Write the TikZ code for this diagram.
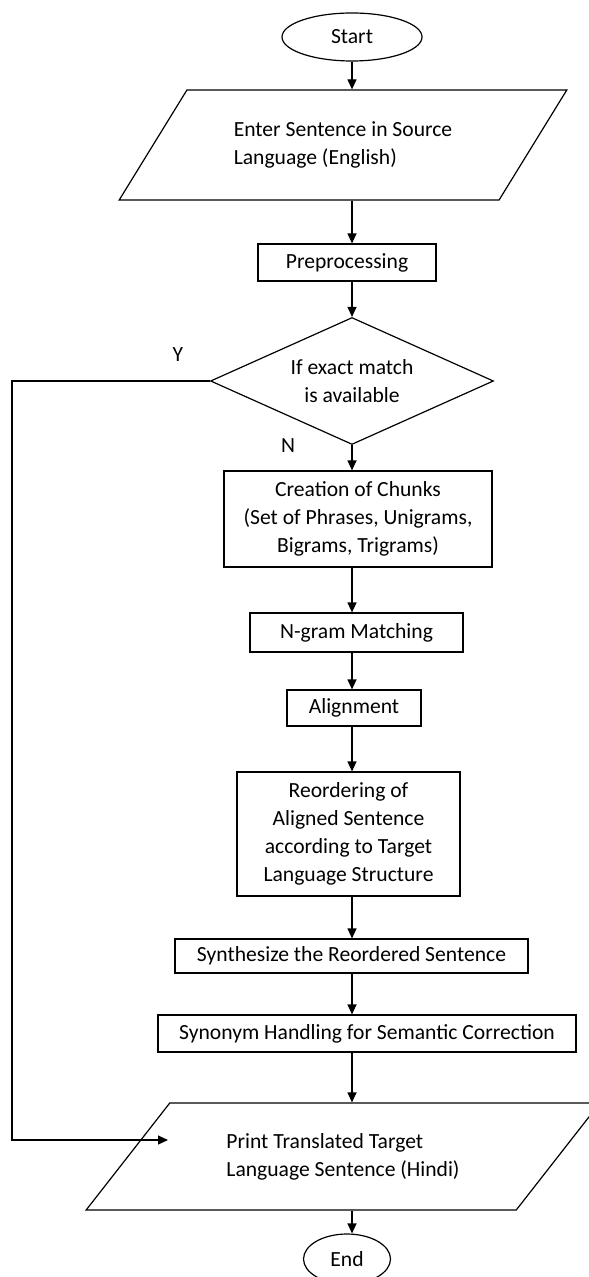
\documentclass[tikz,border=0pt]{standalone}
\usepackage{fontspec}
\setmainfont{Carlito}
\usetikzlibrary{shapes.geometric,arrows.meta}
\tikzstyle{term} = [ellipse, draw, inner sep=0pt]
\tikzstyle{io} = [trapezium, draw, trapezium stretches=true, align=left, inner sep=0pt]
\tikzstyle{proc} = [rectangle, draw, align=center, inner sep=0pt]
\tikzstyle{test} = [diamond, draw, align=center, inner sep=0pt, aspect=2.23]

\begin{document}
\begin{tikzpicture}[x=0.5pt, y=-0.5pt, line width=0.6pt,
  >={Triangle[length=5pt,width=4.5pt]}, font=\fontsize{10.8}{14}\selectfont]
  \useasboundingbox (0,0) rectangle (588,1277);
  \node (a) at (352,37) [term, minimum width=70pt, minimum height=24pt] {Start};
  \node (b) at (343,145) [io, trapezium left angle=44.5, trapezium right angle=135.5,
    minimum width=224pt, minimum height=55pt] {Enter Sentence in Source\\Language (English)};
  \node (c) at (347,262.5) [proc, minimum width=89pt, minimum height=18.5pt] {Preprocessing};
  \node (d) at (352,381) [test, minimum width=141.5pt, minimum height=63.5pt] {If exact match\\is available};
  \node (e) at (358,519) [proc, minimum width=134pt, minimum height=48pt] {Creation of Chunks\\(Set of Phrases, Unigrams,\\Bigrams, Trigrams)};
  \node (f) at (356.5,632.5) [proc, minimum width=106.5pt, minimum height=19.5pt] {N-gram Matching};
  \node (g) at (354,708) [proc, minimum width=67pt, minimum height=18pt] {Alignment};
  \node (h) at (348.5,834) [proc, minimum width=111.5pt, minimum height=62pt] {Reordering of\\Aligned Sentence\\according to Target\\Language Structure};
  \node (i) at (351.5,956) [proc, minimum width=176.5pt, minimum height=17pt] {Synthesize the Reordered Sentence};
  \node (j) at (367,1033.5) [proc, minimum width=209pt, minimum height=18.5pt] {Synonym Handling for Semantic Correction};
  \node (k) at (343,1156.5) [io, trapezium left angle=39.7, trapezium right angle=140.3,
    minimum width=257pt, minimum height=53.5pt] {Print Translated Target\\Language Sentence (Hindi)};
  \node (l) at (347,1259) [term, minimum width=43.5pt, minimum height=25pt] {End};

  \node (y) at (178,355) {Y};
  \node (n) at (288,446) {N};
  \coordinate (y1) at (12,381);
  \coordinate (y2) at (168,1140);

  \draw [->] (a) -- (a |- b.north);
  \draw [->] (a |- b.south) -- (a |- c.north);
  \draw [->] (a |- c.south) -- (a |- d.north);
  \draw [->] (d.south) -- (a |- e.north);
  \draw [->] (a |- e.south) -- (a |- f.north);
  \draw [->] (a |- f.south) -- (a |- g.north);
  \draw [->] (a |- g.south) -- (a |- h.north);
  \draw [->] (a |- h.south) -- (a |- i.north);
  \draw [->] (a |- i.south) -- (a |- j.north);
  \draw [->] (a |- j.south) -- (a |- k.north);
  \draw [->] (a |- k.south) -- (a |- l.north);
  \draw [->] (d.west) -- (y1) |- (y2);
\end{tikzpicture}
\end{document}
